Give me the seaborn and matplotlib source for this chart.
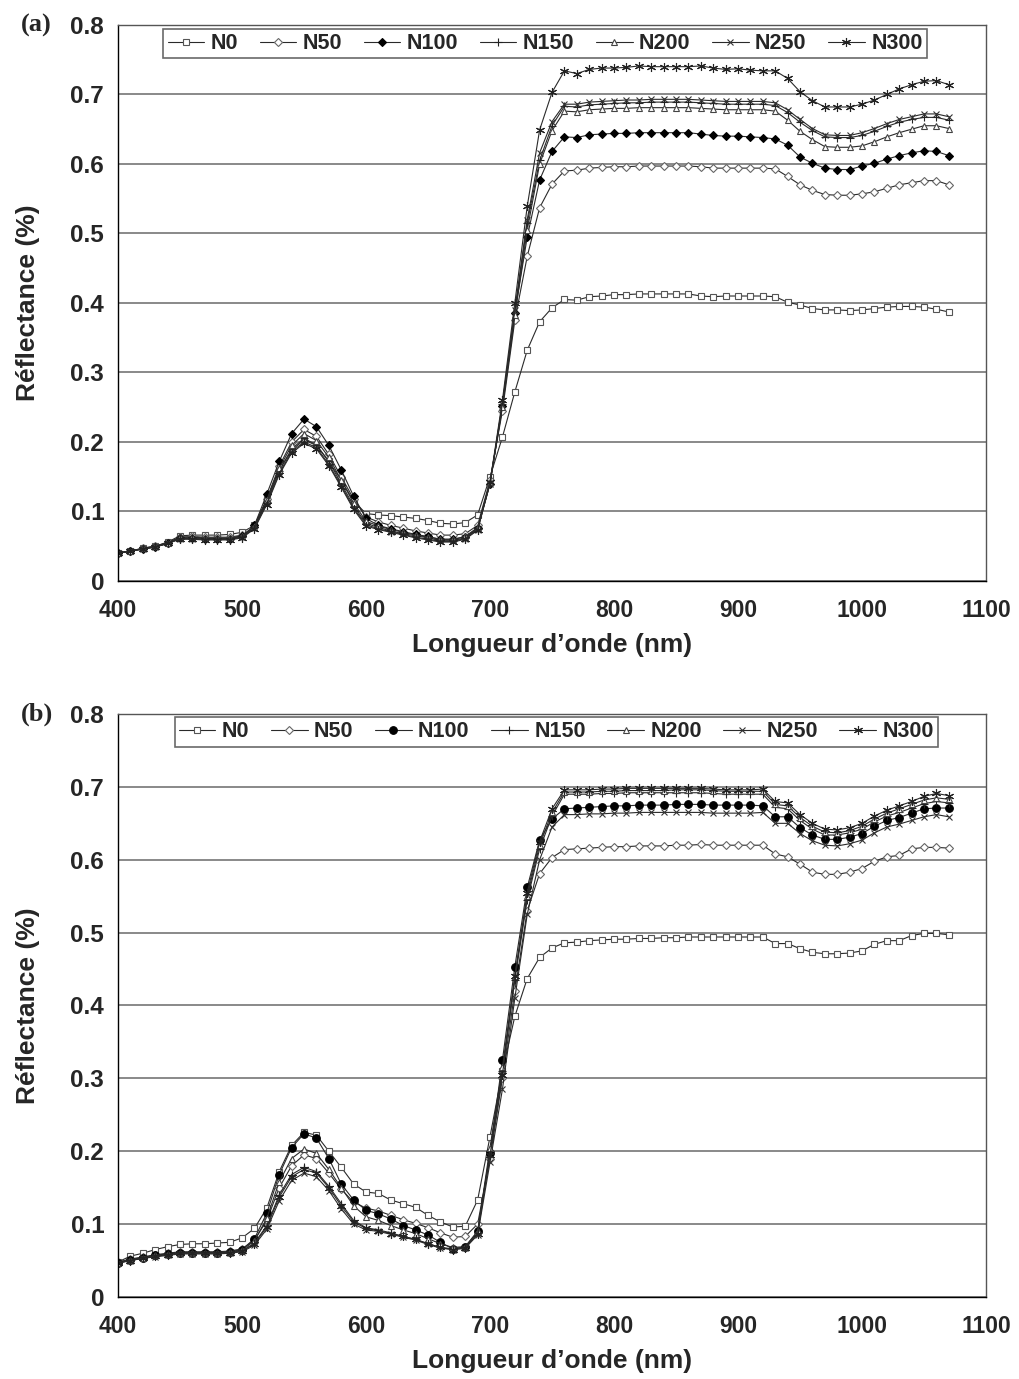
import numpy as np
import pandas as pd
import matplotlib
matplotlib.use("Agg")
import matplotlib.pyplot as plt
import seaborn as sns

# Wavelengths (nm), one sample every 10 nm
wavelengths = list(range(400, 1080, 10))

series_names = ["N0", "N50", "N100", "N150", "N200", "N250", "N300"]

# ---- Panel (a) reflectance spectra ----
a_N0 = [0.040, 0.043, 0.047, 0.050, 0.056, 0.065, 0.066, 0.066, 0.066, 0.067, 0.070,
        0.080, 0.118, 0.160, 0.188, 0.203, 0.195, 0.172, 0.145, 0.115, 0.097,
        0.095, 0.094, 0.092, 0.090, 0.087, 0.083, 0.082, 0.084, 0.095,
        0.150, 0.207, 0.272, 0.332, 0.373, 0.393, 0.405,
        0.404, 0.409, 0.410, 0.412, 0.412, 0.413, 0.413, 0.413, 0.413, 0.413, 0.410, 0.409, 0.410, 0.410, 0.410, 0.410, 0.409,
        0.401, 0.397, 0.392, 0.390, 0.390, 0.389, 0.390, 0.392, 0.394, 0.395, 0.395, 0.394, 0.391, 0.387]
a_N50 = [0.040, 0.043, 0.047, 0.050, 0.055, 0.063, 0.064, 0.063, 0.063, 0.063, 0.066,
         0.078, 0.118, 0.165, 0.200, 0.218, 0.208, 0.182, 0.150, 0.118, 0.092,
         0.085, 0.080, 0.076, 0.072, 0.069, 0.066, 0.066, 0.068, 0.080,
         0.145, 0.245, 0.375, 0.467, 0.537, 0.571, 0.590,
         0.591, 0.594, 0.595, 0.596, 0.596, 0.597, 0.597, 0.597, 0.597, 0.597, 0.596, 0.594, 0.594, 0.594, 0.594, 0.594, 0.593,
         0.582, 0.570, 0.562, 0.556, 0.555, 0.555, 0.557, 0.560, 0.565, 0.570, 0.573, 0.576, 0.576, 0.570]
a_N100 = [0.040, 0.043, 0.046, 0.049, 0.054, 0.062, 0.062, 0.061, 0.061, 0.061, 0.064,
          0.080, 0.125, 0.172, 0.212, 0.233, 0.222, 0.195, 0.160, 0.122, 0.090,
          0.080, 0.075, 0.071, 0.067, 0.064, 0.060, 0.060, 0.063, 0.076,
          0.140, 0.252, 0.385, 0.495, 0.577, 0.618, 0.639,
          0.638, 0.642, 0.643, 0.644, 0.644, 0.645, 0.645, 0.645, 0.645, 0.645, 0.643, 0.641, 0.640, 0.640, 0.639, 0.638, 0.636,
          0.627, 0.610, 0.601, 0.594, 0.592, 0.592, 0.597, 0.601, 0.607, 0.612, 0.616, 0.619, 0.618, 0.612]
a_N150 = [0.040, 0.043, 0.046, 0.049, 0.054, 0.061, 0.061, 0.060, 0.060, 0.060, 0.063,
          0.077, 0.114, 0.158, 0.190, 0.205, 0.196, 0.172, 0.140, 0.108, 0.083,
          0.077, 0.072, 0.068, 0.065, 0.062, 0.058, 0.058, 0.062, 0.075,
          0.140, 0.255, 0.385, 0.515, 0.605, 0.655, 0.683,
          0.682, 0.685, 0.686, 0.687, 0.688, 0.688, 0.689, 0.689, 0.689, 0.689, 0.688, 0.687, 0.686, 0.686, 0.686, 0.686, 0.684,
          0.674, 0.660, 0.648, 0.639, 0.638, 0.638, 0.641, 0.647, 0.654, 0.660, 0.664, 0.667, 0.667, 0.663]
a_N200 = [0.040, 0.043, 0.047, 0.050, 0.055, 0.063, 0.063, 0.062, 0.062, 0.062, 0.065,
          0.078, 0.117, 0.162, 0.195, 0.212, 0.202, 0.178, 0.145, 0.112, 0.086,
          0.079, 0.074, 0.070, 0.066, 0.063, 0.060, 0.060, 0.064, 0.077,
          0.142, 0.250, 0.382, 0.505, 0.600, 0.648, 0.676,
          0.675, 0.678, 0.679, 0.680, 0.680, 0.681, 0.681, 0.681, 0.681, 0.681, 0.680, 0.679, 0.678, 0.678, 0.678, 0.678, 0.676,
          0.663, 0.647, 0.635, 0.625, 0.624, 0.624, 0.626, 0.632, 0.639, 0.645, 0.650, 0.655, 0.655, 0.651]
a_N250 = [0.040, 0.043, 0.046, 0.049, 0.054, 0.061, 0.061, 0.060, 0.060, 0.060, 0.063,
          0.076, 0.112, 0.155, 0.186, 0.200, 0.192, 0.168, 0.137, 0.105, 0.081,
          0.075, 0.071, 0.067, 0.063, 0.060, 0.057, 0.057, 0.061, 0.074,
          0.140, 0.255, 0.390, 0.520, 0.616, 0.661, 0.686,
          0.686, 0.689, 0.690, 0.691, 0.692, 0.692, 0.693, 0.693, 0.693, 0.693, 0.692, 0.691, 0.690, 0.690, 0.690, 0.690, 0.688,
          0.678, 0.664, 0.651, 0.642, 0.641, 0.641, 0.645, 0.651, 0.658, 0.664, 0.668, 0.672, 0.672, 0.668]
a_N300 = [0.040, 0.043, 0.046, 0.049, 0.054, 0.060, 0.060, 0.059, 0.059, 0.059, 0.062,
          0.075, 0.110, 0.153, 0.184, 0.198, 0.190, 0.166, 0.135, 0.103, 0.079,
          0.074, 0.070, 0.066, 0.062, 0.059, 0.056, 0.056, 0.060, 0.073,
          0.142, 0.260, 0.400, 0.539, 0.649, 0.703, 0.734,
          0.730, 0.736, 0.738, 0.738, 0.739, 0.741, 0.740, 0.740, 0.740, 0.740, 0.741, 0.738, 0.736, 0.737, 0.735, 0.734, 0.734,
          0.723, 0.704, 0.691, 0.682, 0.682, 0.682, 0.686, 0.692, 0.700, 0.708, 0.714, 0.719, 0.720, 0.714]

# ---- Panel (b) reflectance spectra ----
b_N0 = [0.048, 0.056, 0.060, 0.065, 0.069, 0.072, 0.073, 0.073, 0.074, 0.075, 0.081,
        0.094, 0.122, 0.172, 0.208, 0.226, 0.222, 0.200, 0.178, 0.155, 0.144,
        0.142, 0.133, 0.128, 0.123, 0.112, 0.103, 0.096, 0.097, 0.133,
        0.220, 0.310, 0.385, 0.437, 0.466, 0.479, 0.486,
        0.487, 0.489, 0.490, 0.491, 0.491, 0.492, 0.492, 0.493, 0.493, 0.494, 0.494, 0.494, 0.494, 0.494, 0.494,
        0.494, 0.485, 0.485, 0.478, 0.473, 0.471, 0.471, 0.472, 0.475, 0.484, 0.489, 0.489, 0.496, 0.499, 0.499, 0.497]
b_N50 = [0.048, 0.052, 0.055, 0.058, 0.060, 0.062, 0.062, 0.062, 0.062, 0.063, 0.066,
         0.078, 0.105, 0.150, 0.180, 0.195, 0.190, 0.170, 0.148, 0.130, 0.122,
         0.118, 0.112, 0.106, 0.101, 0.095, 0.088, 0.082, 0.083, 0.100,
         0.190, 0.300, 0.420, 0.530, 0.581, 0.603, 0.614,
         0.615, 0.616, 0.617, 0.618, 0.618, 0.619, 0.619, 0.619, 0.620, 0.620, 0.621, 0.620, 0.620, 0.620, 0.620,
         0.620, 0.608, 0.604, 0.594, 0.583, 0.580, 0.580, 0.583, 0.588, 0.598, 0.604, 0.606, 0.615, 0.617, 0.617, 0.616]
b_N100 = [0.047, 0.051, 0.054, 0.057, 0.059, 0.061, 0.061, 0.061, 0.061, 0.062, 0.065,
          0.080, 0.115, 0.168, 0.205, 0.224, 0.218, 0.190, 0.155, 0.133, 0.119,
          0.114, 0.107, 0.098, 0.092, 0.085, 0.075, 0.066, 0.069, 0.090,
          0.197, 0.325, 0.453, 0.562, 0.627, 0.656, 0.670,
          0.671, 0.672, 0.673, 0.674, 0.674, 0.675, 0.675, 0.675, 0.676, 0.676, 0.676, 0.675, 0.675, 0.675, 0.675,
          0.674, 0.659, 0.659, 0.644, 0.634, 0.628, 0.628, 0.631, 0.636, 0.646, 0.654, 0.658, 0.664, 0.670, 0.671, 0.671]
b_N150 = [0.047, 0.050, 0.053, 0.056, 0.058, 0.060, 0.060, 0.060, 0.060, 0.061, 0.063,
          0.074, 0.098, 0.140, 0.168, 0.178, 0.172, 0.152, 0.128, 0.105, 0.095,
          0.092, 0.088, 0.083, 0.079, 0.073, 0.068, 0.066, 0.068, 0.088,
          0.200, 0.310, 0.435, 0.545, 0.615, 0.660, 0.690,
          0.690, 0.690, 0.691, 0.691, 0.692, 0.692, 0.692, 0.692, 0.692, 0.692, 0.692, 0.691, 0.690, 0.690, 0.690,
          0.690, 0.672, 0.670, 0.654, 0.642, 0.634, 0.634, 0.637, 0.642, 0.652, 0.660, 0.665, 0.671, 0.677, 0.680, 0.678]
b_N200 = [0.047, 0.051, 0.054, 0.057, 0.059, 0.061, 0.061, 0.061, 0.061, 0.062, 0.064,
          0.077, 0.108, 0.158, 0.190, 0.203, 0.197, 0.175, 0.150, 0.125, 0.110,
          0.105, 0.098, 0.092, 0.087, 0.080, 0.073, 0.068, 0.069, 0.090,
          0.205, 0.315, 0.440, 0.550, 0.620, 0.665, 0.693,
          0.693, 0.693, 0.694, 0.694, 0.695, 0.695, 0.695, 0.695, 0.696, 0.696, 0.696, 0.695, 0.694, 0.694, 0.694,
          0.694, 0.676, 0.674, 0.658, 0.646, 0.638, 0.637, 0.640, 0.646, 0.656, 0.664, 0.670, 0.676, 0.682, 0.685, 0.683]
b_N250 = [0.046, 0.050, 0.053, 0.055, 0.057, 0.059, 0.059, 0.059, 0.059, 0.060, 0.062,
          0.071, 0.093, 0.132, 0.160, 0.170, 0.165, 0.146, 0.121, 0.100, 0.092,
          0.090, 0.086, 0.082, 0.078, 0.072, 0.067, 0.065, 0.067, 0.085,
          0.185, 0.285, 0.410, 0.525, 0.600, 0.645, 0.662,
          0.662, 0.663, 0.663, 0.664, 0.664, 0.665, 0.665, 0.665, 0.665, 0.665, 0.665, 0.664, 0.664, 0.664, 0.664,
          0.665, 0.650, 0.650, 0.636, 0.626, 0.620, 0.619, 0.622, 0.627, 0.637, 0.645, 0.649, 0.654, 0.659, 0.662, 0.659]
b_N300 = [0.047, 0.050, 0.053, 0.056, 0.058, 0.060, 0.060, 0.060, 0.060, 0.061, 0.063,
          0.073, 0.096, 0.137, 0.165, 0.175, 0.170, 0.150, 0.125, 0.103, 0.094,
          0.091, 0.087, 0.083, 0.079, 0.073, 0.068, 0.065, 0.067, 0.087,
          0.195, 0.305, 0.440, 0.555, 0.625, 0.670, 0.696,
          0.696, 0.696, 0.697, 0.697, 0.698, 0.698, 0.698, 0.698, 0.698, 0.698, 0.698, 0.697, 0.696, 0.696, 0.696,
          0.697, 0.680, 0.678, 0.662, 0.650, 0.642, 0.641, 0.644, 0.650, 0.660, 0.668, 0.674, 0.680, 0.687, 0.691, 0.688]

panel_a = [a_N0, a_N50, a_N100, a_N150, a_N200, a_N250, a_N300]
panel_b = [b_N0, b_N50, b_N100, b_N150, b_N200, b_N250, b_N300]

x_ticks = [400, 500, 600, 700, 800, 900, 1000, 1100]
y_ticks = [0, 0.1, 0.2, 0.3, 0.4, 0.5, 0.6, 0.7, 0.8]
y_ticklabels = ["0", "0.1", "0.2", "0.3", "0.4", "0.5", "0.6", "0.7", "0.8"]

sns.set_style("white")
plt.rcParams["font.family"] = ["Liberation Sans", "DejaVu Sans"]
plt.rcParams["font.weight"] = "bold"

ASTERISK = (6, 2, 0)


def marker_styles(filled_kind):
    return [
        dict(marker="s", mfc="white", mec="#555555", ms=4.8, mew=0.8),
        dict(marker="D", mfc="white", mec="#666666", ms=4.2, mew=0.8),
        dict(marker=filled_kind, mfc="black", mec="black",
             ms=4.5 if filled_kind == "D" else 5.5, mew=0.8),
        dict(marker="+", mfc="none", mec="#222222", ms=5.5, mew=0.8),
        dict(marker="^", mfc="white", mec="#444444", ms=5, mew=0.8),
        dict(marker="x", mfc="none", mec="#333333", ms=4.8, mew=0.8),
        dict(marker=ASTERISK, mfc="none", mec="#222222", ms=6.5, mew=0.8),
    ]


def draw_panel(ax, data, filled_kind, tag, legend_anchor):
    styles = marker_styles(filled_kind)
    for name, vals, st in zip(series_names, data, styles):
        df = pd.DataFrame({"wl": wavelengths, "r": vals})
        sns.lineplot(data=df, x="wl", y="r", ax=ax, color="#2a2a2a", lw=0.8,
                     label=name, sort=True, **st)
    ax.set_xlim(400, 1100)
    ax.set_ylim(0, 0.8)
    ax.set_xticks(x_ticks)
    ax.set_xticklabels([str(t) for t in x_ticks], fontsize=16.5, fontweight="bold")
    ax.set_yticks(y_ticks)
    ax.set_yticklabels(y_ticklabels, fontsize=17.5, fontweight="bold")
    ax.yaxis.grid(True, color="#808080", lw=1.3)
    ax.xaxis.grid(False)
    ax.set_axisbelow(True)
    for sp in ax.spines.values():
        sp.set_color("#555555")
        sp.set_linewidth(1.0)
    ax.spines["left"].set_color("black")
    ax.spines["bottom"].set_color("black")
    ax.tick_params(axis="both", direction="out", length=4, width=1, color="black")
    ax.tick_params(axis="y", pad=6)
    ax.tick_params(axis="x", pad=9)
    ax.set_xlabel("Longueur d\u2019onde (nm)", fontsize=19, fontweight="bold", labelpad=8)
    ax.set_ylabel("R\u00e9flectance (%)", fontsize=19, fontweight="bold", labelpad=22)
    leg = ax.legend(loc="upper center", bbox_to_anchor=legend_anchor, ncol=7,
                    frameon=True, fancybox=False, edgecolor="#444444",
                    fontsize=15.5, handlelength=1.7, handletextpad=0.3,
                    columnspacing=1.0, borderpad=0.2, borderaxespad=0.0)
    leg.get_frame().set_linewidth(1.2)
    for t in leg.get_texts():
        t.set_fontweight("bold")
    ax.text(-0.112, 1.0, tag, transform=ax.transAxes, fontsize=19,
            fontweight="bold", family=["Liberation Serif", "DejaVu Serif"],
            ha="left", va="center")


fig = plt.figure(figsize=(10.2, 13.79), dpi=100)
ax_a = fig.add_axes([0.1157, 0.5787, 0.851, 0.4032])
ax_b = fig.add_axes([0.1157, 0.0595, 0.851, 0.4227])

draw_panel(ax_a, panel_a, "D", "(a)", (0.492, 0.993))
draw_panel(ax_b, panel_b, "o", "(b)", (0.505, 0.995))

fig.savefig("out.png", dpi=100, facecolor="white")
